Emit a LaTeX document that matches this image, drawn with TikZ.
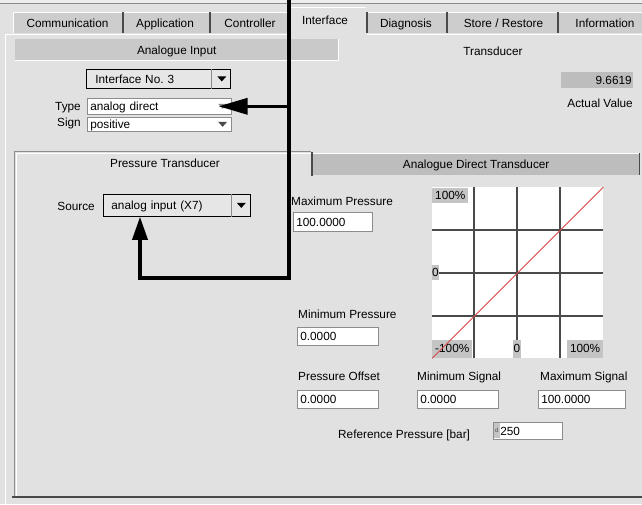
\documentclass[tikz,border=0pt]{standalone}
\usepackage{fontspec}
\setmainfont{Liberation Sans}
\usetikzlibrary{arrows.meta}

\definecolor{panelbg}{HTML}{E1E1E1}
\definecolor{topbg}{HTML}{EDEDED}
\definecolor{tabgray}{HTML}{CDCDCD}
\definecolor{bargray}{HTML}{C9C9C9}
\definecolor{bardark}{HTML}{BDBDBD}
\definecolor{edgedark}{HTML}{4A4A4A}
\definecolor{edgemid}{HTML}{8C8C8C}
\definecolor{combofill}{HTML}{E6E6E6}
\definecolor{curve}{HTML}{D24848}
\definecolor{lblgray}{HTML}{C4C4C4}

\begin{document}
\begin{tikzpicture}[x=1pt,y=-1pt,
  font=\fontsize{11.8}{13}\selectfont,
  txt/.style={inner sep=0pt, text height=8.5pt, text depth=2.5pt},
  tabsep/.style={draw=edgedark, line width=1.5pt},
  field/.style={fill=white, draw=edgemid, line width=0.6pt, anchor=north west,
    inner xsep=3pt, inner ysep=0pt, text height=10pt, text depth=1pt, align=left,
    path picture={\draw[edgedark,line width=1.2pt]
      (path picture bounding box.south west) -- (path picture bounding box.north west)
      -- (path picture bounding box.north east);}},
  combo/.style={fill=combofill, draw=black, line width=0.8pt, anchor=north west,
    inner ysep=0pt, text height=10pt, text depth=1pt, align=left},
  bar/.style={anchor=north west, inner sep=0pt, text height=10pt, text depth=1pt},
  lbl/.style={fill=lblgray, inner xsep=3pt, inner ysep=2.5pt, text height=8.5pt, text depth=1.5pt},
  grid/.style={draw=edgedark, line width=1.3pt},
  conn/.style={draw=black, line width=3.5pt, line join=miter}
]
\useasboundingbox (0,0) rectangle (642,504);

% window background
\fill[panelbg] (0,0) rectangle (642,504);
\fill[topbg] (0,0) rectangle (642,3);
\draw[edgemid, line width=0.8pt] (0,3.5) -- (642,3.5);

% tab row
\foreach \a/\b in {13/122, 124/209, 211/288, 368/446, 448/557, 559/642}{
  \fill[tabgray] (\a,12) rectangle (\b,33);
  \draw[white, line width=1pt] (\a,12.5) -- (\b,12.5);
}
\draw[white, line width=1pt] (13.5,33) -- (13.5,12.5);
\foreach \x in {123,210,367,447,558}
  \draw[tabsep] (\x,12) -- (\x,33);
\fill[panelbg] (289,7) rectangle (366,35);
\draw[white, line width=1pt] (289.5,34) -- (289.5,7.5) -- (366,7.5);
\draw[white, line width=1pt] (5,34.5) -- (289,34.5);
\draw[white, line width=1pt] (367,34.5) -- (642,34.5);
\draw[white, line width=1pt] (5.5,35) -- (5.5,504);

\node[txt] (tabComm) at (67.5,24.5) {Communication};
\node[txt] (tabAppl) at (165,24.5) {Application};
\node[txt] (tabCtrl) at (250,24.5) {Controller};
\node[txt] (tabIntf) at (325,21) {Interface};
\node[txt] (tabDiag) at (406,24.5) {Diagnosis};
\node[txt] (tabStore) at (503.5,24.5) {Store / Restore};
\node[txt] (tabInfo) at (605,24.5) {Information};

% analogue input header and transducer title
\node[bar, fill=bargray, minimum width=323pt, minimum height=21pt] (aibar) at (15,39) {Analogue Input};
\draw[white, line width=1pt] (aibar.south west) -- (aibar.south east) -- (aibar.north east);
\node[txt] (trlbl) at (493,52) {Transducer};

% interface selector
\node[combo, text width=126pt, inner xsep=9pt, minimum height=19pt] (ifc) at (86,69) {Interface No.~3};
\draw[edgemid, line width=0.8pt] ([xshift=-19pt]ifc.north east) -- ([xshift=-19pt]ifc.south east);
\fill[black] ([xshift=-13.5pt,yshift=2.5pt]ifc.east) -- ++(9,0) -- ++(-4.5,5) -- cycle;

% type and sign
\node[txt, anchor=east] (typelbl) at (81,107.5) {Type};
\node[field, text width=138pt, minimum height=16pt] (typebox) at (87,98) {analog direct};
\fill[edgemid] ([xshift=-13.5pt,yshift=2.5pt]typebox.east) -- ++(9,0) -- ++(-4.5,5) -- cycle;
\node[txt, anchor=east] (signlbl) at (81,123) {Sign};
\node[field, text width=138pt, minimum height=14pt] (signbox) at (87,117) {positive};
\fill[edgedark] ([xshift=-13.5pt,yshift=2.5pt]signbox.east) -- ++(9,0) -- ++(-4.5,5) -- cycle;

% actual value display
\node[bar, fill=bardark, minimum width=72pt, minimum height=16pt, text width=69pt, align=right] (actval) at (561,72) {9.6619};
\node[txt, anchor=east] (actlbl) at (633,104) {Actual Value};

% inner tab panel
\draw[edgemid, line width=0.8pt] (14.5,496) -- (14.5,151.5) -- (311,151.5);
\draw[white, line width=1pt] (16.5,496) -- (16.5,153) -- (311,153);
\node[txt] (ptlbl) at (165,164) {Pressure Transducer};
\draw[edgedark, line width=2pt] (312,152) -- (312,176);
\node[bar, fill=bardark, minimum width=326pt, minimum height=22pt] (adtbar) at (313,153) {Analogue Direct Transducer};
\draw[white, line width=1pt] (313,153.5) -- (639,153.5);
\draw[edgedark, line width=1pt] (639.5,153) -- (639.5,175);
\draw[edgedark, line width=1.5pt] (12,497) -- (642,497);

% source selector
\node[txt, anchor=east] (srclbl) at (95,207) {Source};
\node[combo, text width=131pt, inner xsep=8pt, minimum height=22pt] (srcbox) at (103,194) {analog input (X7)};
\draw[edgemid, line width=0.8pt] ([xshift=-19pt]srcbox.north east) -- ([xshift=-19pt]srcbox.south east);
\fill[black] ([xshift=-14pt,yshift=2.5pt]srcbox.east) -- ++(9,0) -- ++(-4.5,5) -- cycle;

% pressure and signal fields
\node[txt, anchor=west] (maxplbl) at (291,202) {Maximum Pressure};
\node[field, text width=73pt, minimum height=19pt] (maxp) at (293,212) {100.0000};
\node[txt, anchor=west] (minplbl) at (298,315) {Minimum Pressure};
\node[field, text width=75pt, minimum height=18pt] (minp) at (297,327) {0.0000};
\node[txt, anchor=west] (offlbl) at (298,377) {Pressure Offset};
\node[field, text width=75pt, minimum height=18pt] (offp) at (297,390) {0.0000};
\node[txt, anchor=west] (minslbl) at (417,377) {Minimum Signal};
\node[field, text width=75pt, minimum height=18pt] (mins) at (417,390) {0.0000};
\node[txt, anchor=west] (maxslbl) at (540,377) {Maximum Signal};
\node[field, text width=81pt, minimum height=18pt] (maxs) at (538,390) {100.0000};
\node[txt, anchor=west] (reflbl) at (338,435) {Reference Pressure [bar]};
\node[field, text width=63pt, minimum height=17pt] (refp) at (493,422) {\hspace*{4pt}250};
\node[fill=lblgray, inner sep=0pt, minimum width=6pt, minimum height=15pt, anchor=north west,
  font=\fontsize{6}{6}\selectfont, text=edgedark] (refunit) at (493.6,423) {d};

% characteristic plot
\node[fill=white, minimum width=171pt, minimum height=171pt, inner sep=0pt, anchor=north west] (plot) at (432,187) {};
\foreach \x in {474,517,560} \draw[grid] (\x,187) -- (\x,358);
\foreach \y in {230,273,316} \draw[grid] (432,\y) -- (603,\y);
\node[lbl, anchor=north west] (ytop) at ([yshift=-1pt]plot.north west) {100\%};
\node[lbl, anchor=west, inner xsep=0pt] (ymid) at (plot.west) {0};
\node[lbl, anchor=south west, minimum height=18pt] (xmin) at (plot.south west) {-100\%};
\node[lbl, anchor=south, inner xsep=0.6pt, minimum height=18pt] (xzero) at (517,358) {0};
\node[lbl, anchor=south east, minimum height=18pt] (xmax) at (plot.south east) {100\%};
\draw[curve, line width=0.9pt] (plot.south west) -- (plot.north east);

% signal path arrows
\coordinate (feed) at (289,-3);
\coordinate (tee) at (feed |- typebox.east);
\coordinate (tipT) at ([xshift=-13pt]typebox.east);
\coordinate (bend1) at (289,278);
\coordinate (bend2) at (140,278);
\draw[conn, -{Triangle[length=23pt,width=15pt]}] (feed) -- (bend1) -- (bend2) -- (bend2 |- srcbox.south);
\draw[conn, -{Triangle[length=29pt,width=16pt]}] (tee) -- (tipT);
\end{tikzpicture}
\end{document}
